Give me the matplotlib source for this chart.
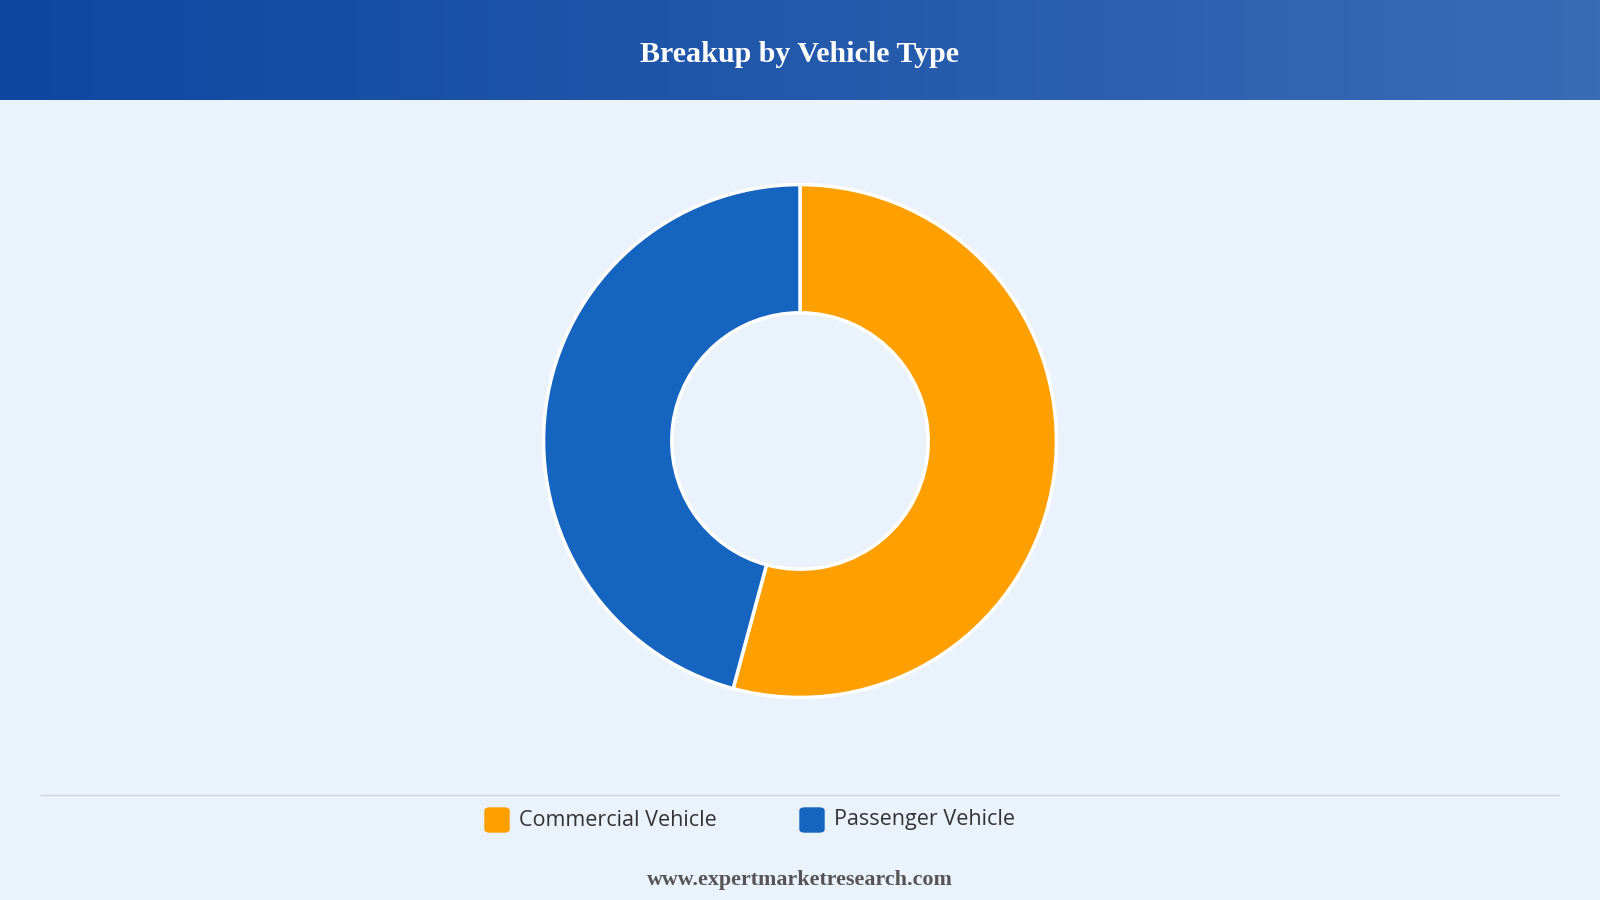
import matplotlib.pyplot as plt
import numpy as np
from matplotlib.patches import FancyBboxPatch
from matplotlib.colors import LinearSegmentedColormap

categories = ['Commercial Vehicle', 'Passenger Vehicle']
shares = [54.2, 45.8]
colors = ['#FFA000', '#1565C0']

W, H = 1600, 900
fig = plt.figure(figsize=(16, 9), dpi=100)
fig.patch.set_facecolor('#EAF2FB')

# header gradient band
hdr = fig.add_axes([0, 1 - 100 / H, 1, 100 / H])
grad = np.linspace(0, 1, 256).reshape(1, -1)
cmap = LinearSegmentedColormap.from_list('hdr', ['#0D47A1', '#3A6BB5'])
hdr.imshow(grad, aspect='auto', cmap=cmap, extent=[0, 1, 0, 1])
hdr.set_axis_off()
hdr.text(0.5, 0.46, 'Breakup by Vehicle Type', ha='center', va='center',
         color='white', fontsize=21.6, fontweight='bold', family='Liberation Serif')

# donut
cx, cy, r = 800, 441, 259
ax = fig.add_axes([(cx - r) / W, (H - cy - r) / H, 2 * r / W, 2 * r / H])
ax.pie(shares, colors=colors, startangle=90, counterclock=False,
       wedgeprops=dict(width=0.5, edgecolor='white', linewidth=2.5))
ax.set_xlim(-1.01, 1.01)
ax.set_ylim(-1.01, 1.01)
ax.set_aspect('equal')

# separator line and legend
fig.add_artist(plt.Line2D([41 / W, 1559 / W], [1 - 795 / H] * 2, color='#D0D4D8', lw=1))
legend_x = [485, 800]
for x, lab, c in zip(legend_x, categories, colors):
    fig.add_artist(FancyBboxPatch((x / W, 1 - 832 / H), 24 / W, 24 / H,
                                  boxstyle='round,pad=0,rounding_size=0.003',
                                  transform=fig.transFigure, color=c))
    fig.text((x + 34) / W, 1 - 820 / H, lab, va='center', ha='left',
             fontsize=15.5, color='#333333', family='Open Sans')

fig.text(0.5, 1 - 880 / H, 'www.expertmarketresearch.com', ha='center', va='center',
         fontsize=15.8, fontweight='bold', color='#555555', family='Liberation Serif')

fig.savefig('out.png', dpi=100, facecolor=fig.get_facecolor())
